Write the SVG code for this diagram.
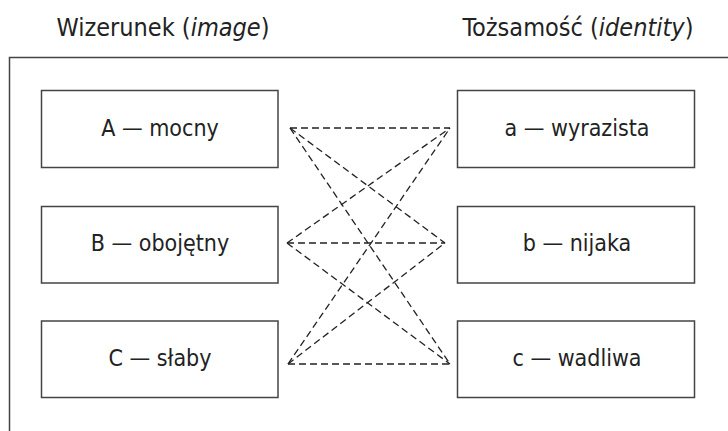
<svg xmlns="http://www.w3.org/2000/svg" width="728" height="431" viewBox="0 0 728 431">
<style>
.box{fill:#fff;stroke:#444;stroke-width:1.5}
.t{font-family:"DejaVu Sans",sans-serif;font-stretch:condensed;font-size:23px;fill:#222;text-anchor:middle}
.h{font-family:"DejaVu Sans",sans-serif;font-stretch:condensed;font-size:25px;fill:#222;text-anchor:middle}
.c{stroke:#222;stroke-width:1.3;stroke-dasharray:7 4;fill:none}
</style>
<rect width="728" height="431" fill="#fff"/>
<text class="h" x="163" y="35.5">Wizerunek (<tspan font-style="italic">image</tspan>)</text>
<text class="h" x="578" y="35.5">Tożsamość (<tspan font-style="italic">identity</tspan>)</text>
<path d="M9.5 431 V57.5 H728" fill="none" stroke="#444" stroke-width="1.5"/>
<g id="connectors">
<line class="c" x1="290" y1="128" x2="450" y2="128"/>
<line class="c" x1="290" y1="128" x2="445" y2="243"/>
<line class="c" x1="290" y1="128" x2="450" y2="364"/>
<line class="c" x1="287" y1="243" x2="450" y2="128"/>
<line class="c" x1="287" y1="243" x2="445" y2="243"/>
<line class="c" x1="287" y1="243" x2="450" y2="364"/>
<line class="c" x1="288" y1="364" x2="450" y2="128"/>
<line class="c" x1="288" y1="364" x2="445" y2="243"/>
<line class="c" x1="288" y1="364" x2="450" y2="364"/>
</g>
<g id="A"><rect class="box" x="41.5" y="90.5" width="236.5" height="77"/><text class="t" x="160" y="136">A — mocny</text></g>
<g id="B"><rect class="box" x="41.5" y="206.5" width="236.5" height="76.5"/><text class="t" x="160" y="251">B — obojętny</text></g>
<g id="C"><rect class="box" x="41.5" y="321" width="236.5" height="76.5"/><text class="t" x="160" y="366">C — słaby</text></g>
<g id="a"><rect class="box" x="457.5" y="90.5" width="237" height="77"/><text class="t" x="577" y="136">a — wyrazista</text></g>
<g id="b"><rect class="box" x="457.5" y="206.5" width="237" height="76.5"/><text class="t" x="577" y="251">b — nijaka</text></g>
<g id="c"><rect class="box" x="457.5" y="321" width="237" height="76.5"/><text class="t" x="577" y="366">c — wadliwa</text></g>
</svg>
